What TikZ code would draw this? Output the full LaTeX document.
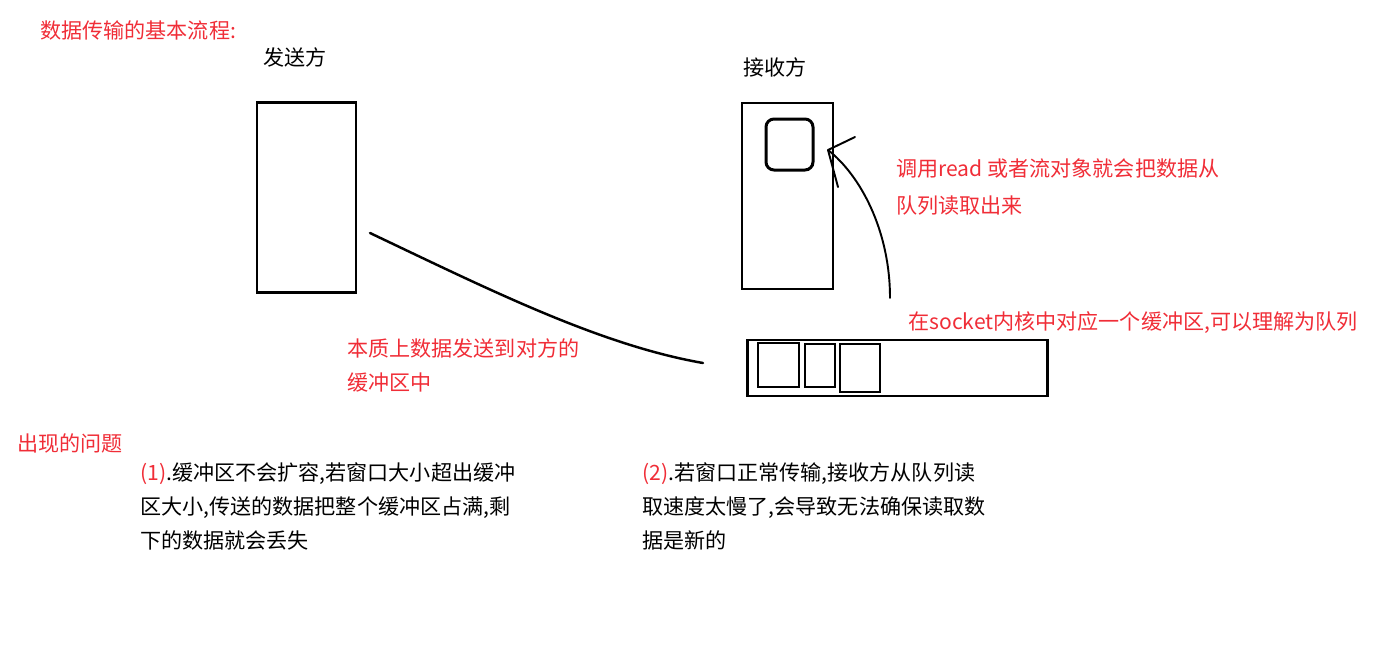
\documentclass[tikz,border=0pt]{standalone}
\usepackage{fontspec}
\setmainfont{Noto Sans CJK SC}
\usepackage{tikz}
\definecolor{notered}{RGB}{240,45,55}

\begin{document}
\begin{tikzpicture}[
    x=0.02cm, y=-0.02cm,
    box/.style={draw, line width=1.7pt, inner sep=0pt},
    slot/.style={draw, line width=1.3pt, inner sep=0pt},
    handline/.style={line width=1.4pt, line cap=round, line join=round},
    label/.style={font=\fontsize{12}{19.3}\selectfont, inner sep=0pt, anchor=west},
    note/.style={label, text=notered, align=left, anchor=north west},
    problem/.style={label, align=left, anchor=north west}
]

% ---------- Parameters ----------
\def\px{0.02cm}

\useasboundingbox (0,0) rectangle (1379,650);

% ---------- Headings ----------
\node[label, text=notered] (title) at (40,30) {数据传输的基本流程:};
\node[label] (sendername) at (263,57) {发送方};
\node[label] (receivername) at (743,67) {接收方};

% ---------- Sender and receiver ----------
\node[box, minimum width=99*\px, minimum height=190*\px] (sender) at (306.5,197) {};
\node[box, line width=1.3pt, minimum width=91*\px, minimum height=186*\px] (receiver) at (787.5,196) {};
\node[box, rounded corners=8*\px, minimum width=47*\px, minimum height=51*\px] (window) at (789.5,144.5) {};

% ---------- Socket buffer ----------
\node[slot, minimum width=300*\px, minimum height=56*\px] (buffer) at (897.5,368) {};
\node[slot, minimum width=41*\px, minimum height=44*\px] (slotA) at (778.5,365) {};
\node[slot, minimum width=30*\px, minimum height=43*\px] (slotB) at (820,365.5) {};
\node[slot, minimum width=40*\px, minimum height=48*\px] (slotC) at (860,368) {};

% ---------- Data flow ----------
\coordinate (sendstart) at (370,233);
\coordinate (sendend) at (703,363);
\draw[handline] (sendstart) .. controls (490,290) and (600,345) .. (sendend);

\coordinate (readstart) at (890,298);
\coordinate (readtip) at (828,150);
\coordinate (barbA) at (855,137);
\coordinate (barbB) at (838,187);
\draw[handline, line width=1.1pt] (readstart) .. controls (890,230) and (860,175) .. (readtip);
\draw[handline, line width=1.1pt] (barbA) -- (readtip) -- (barbB);

% ---------- Notes ----------
\node[note, font=\fontsize{12}{21}\selectfont] (readnote) at (896,158)
    {调用read 或者流对象就会把数据从\\队列读取出来};
\node[label, text=notered] (socketnote) at (908,323)
    {在socket内核中对应一个缓冲区,可以理解为队列};
\node[note] (sendnote) at (347,338)
    {本质上数据发送到对方的\\缓冲区中};

% ---------- Problems ----------
\node[label, text=notered] (problems) at (17,443) {出现的问题};
\node[problem] (problemA) at (140,462)
    {\textcolor{notered}{(1)}.缓冲区不会扩容,若窗口大小超出缓冲\\
     区大小,传送的数据把整个缓冲区占满,剩\\
     下的数据就会丢失};
\node[problem] (problemB) at (642,462)
    {\textcolor{notered}{(2)}.若窗口正常传输,接收方从队列读\\
     取速度太慢了,会导致无法确保读取数\\
     据是新的};

\end{tikzpicture}
\end{document}
